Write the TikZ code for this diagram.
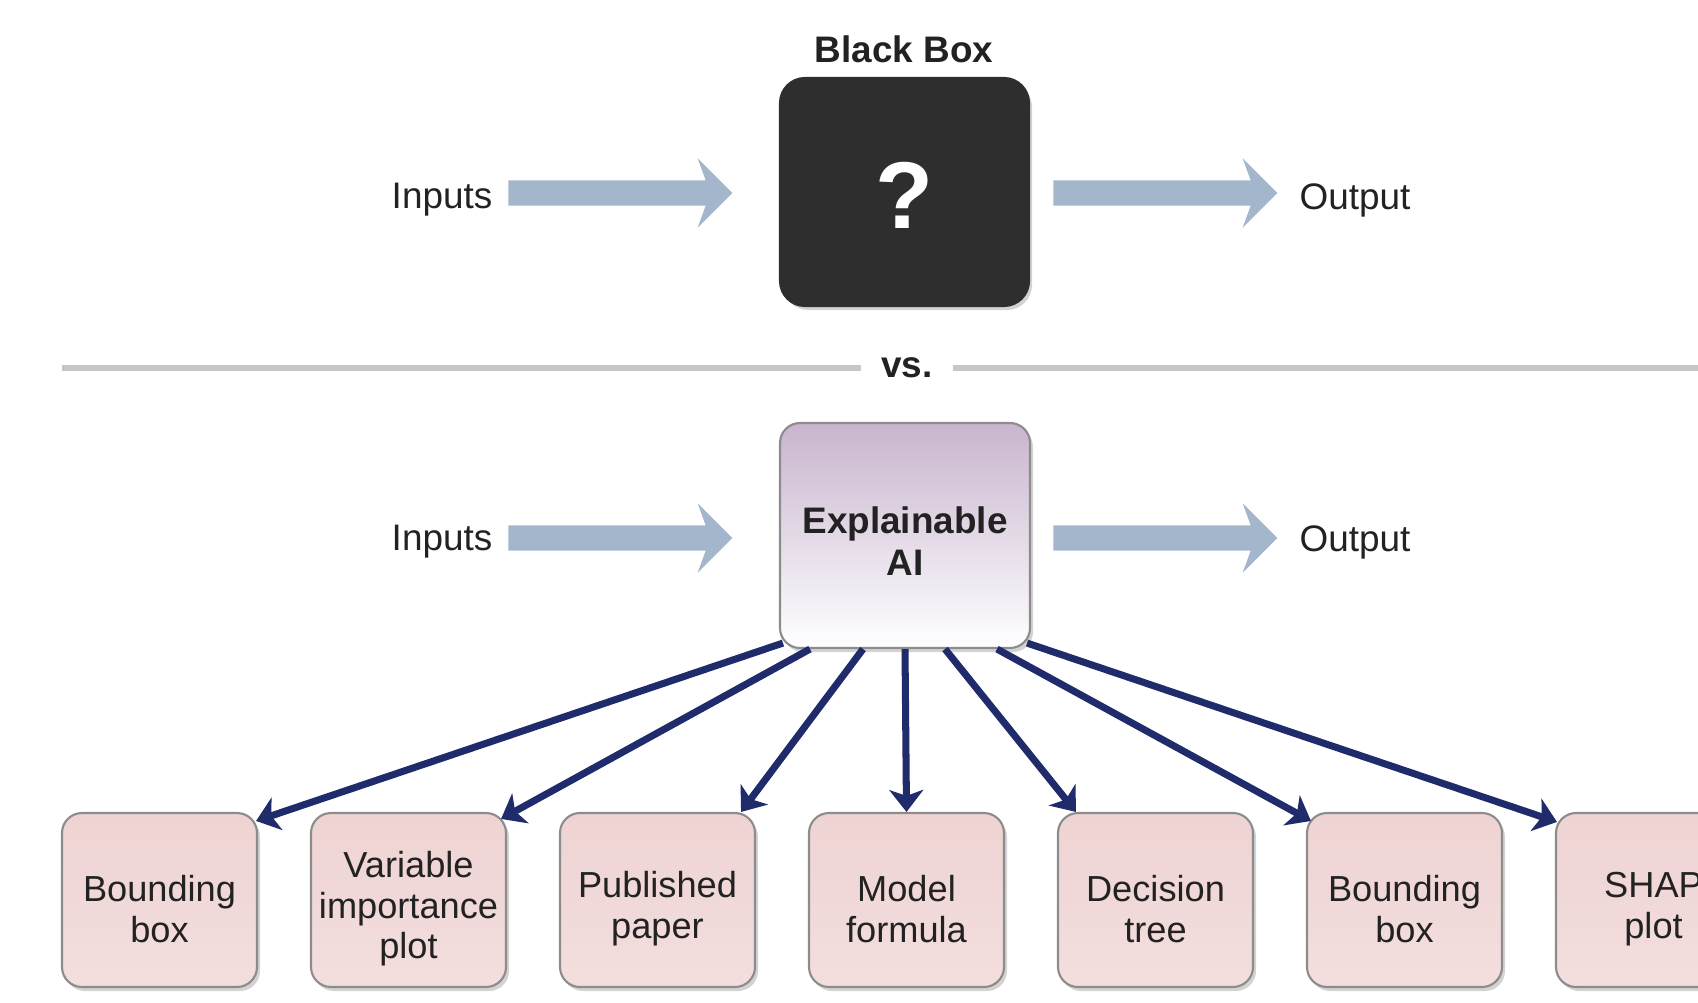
\documentclass[tikz,border=0pt]{standalone}
\usepackage{fontspec}
\setmainfont{Liberation Sans}
\usetikzlibrary{shapes, arrows.meta, shadows, calc}
\definecolor{boxdark}{HTML}{2E2E2E}
\definecolor{flowblue}{HTML}{A4B6CC}
\definecolor{linkblue}{HTML}{1F2B6A}
\definecolor{xaitop}{HTML}{C8B4CE}
\definecolor{outpink}{HTML}{EFD3D3}
\definecolor{edgegray}{HTML}{8C8C8C}
\definecolor{rulegray}{HTML}{C6C6C6}
\definecolor{inkgray}{HTML}{222222}
\tikzstyle{base} = [rectangle, rounded corners=0.2cm, draw=edgegray, line width=0.6pt, text centered, text=inkgray, drop shadow={shadow xshift=0.03cm, shadow yshift=-0.04cm, opacity=0.35}]
\tikzstyle{blackbox} = [base, fill=boxdark, draw=boxdark, minimum width=2.49cm, minimum height=2.28cm, rounded corners=0.25cm]
\tikzstyle{xai} = [base, top color=xaitop, bottom color=white, minimum width=2.50cm, minimum height=2.25cm, text width=2.3cm, inner xsep=0.05cm, execute at begin node={\rule{0pt}{10.8pt}}, font=\fontsize{10.5}{11.8}\selectfont\bfseries]
\tikzstyle{outcome} = [base, top color=outpink, bottom color=outpink!75!white, minimum width=1.95cm, minimum height=1.74cm, text width=1.85cm, inner xsep=0.05cm, execute at begin node={\rule{0pt}{12.5pt}}, font=\fontsize{10.3}{11.6}\selectfont]
\tikzstyle{flow} = [single arrow, draw=none, fill=flowblue, minimum height=2.24cm, inner sep=0.12cm, single arrow head extend=0.22cm, single arrow head indent=0.08cm]
\tikzstyle{io text} = [text=inkgray, font=\fontsize{10.5}{12}\selectfont]
\tikzstyle{title text} = [io text, font=\fontsize{10.5}{12}\selectfont\bfseries]
\tikzstyle{connector} = [draw, linkblue, line width=2pt, -{Stealth[length=0.22cm, width=0.34cm, inset=0.06cm]}]
\tikzstyle{rule} = [draw, rulegray, line width=0.06cm]

\begin{document}
\begin{tikzpicture}
	\useasboundingbox (0,0) rectangle (16.98,-10.02);
	\clip (0,0) rectangle (16.98,-10.02);
	
	% black box
	\node [title text] at (9.04, -0.49) (bb title) {Black Box};
	\node [blackbox] at (9.045, -1.92) (bb) {};
	\node [text=white, font=\fontsize{27}{27}\selectfont\bfseries] at (9.04, -1.95) (qmark) {?};
	\node [io text] at (4.42, -2.00) (in1) {Inputs};
	\node [flow] at (6.14, -1.93) (arr1) {};
	\node [flow] at (11.59, -1.93) (arr2) {};
	\node [io text] at (13.55, -2.00) (out1) {Output};
	
	% separator
	\coordinate (rule west) at (0.62, -3.68);
	\coordinate (rule east) at (16.98, -3.68);
	\node [title text, inner xsep=0.2cm] at (9.07, -3.68) (vs) {vs.};
	\path [rule] (rule west) -- (vs) -- (rule east);
	
	% explainable ai
	\node [xai] at (9.05, -5.355) (ai) {Explainable\\AI};
	\node [io text] at (4.42, -5.42) (in2) {Inputs};
	\node [flow] at (6.14, -5.38) (arr3) {};
	\node [flow] at (11.59, -5.38) (arr4) {};
	\node [io text] at (13.55, -5.42) (out2) {Output};
	
	% explanations
	\node [outcome] at (1.595, -9.00) (b1) {Bounding\\box};
	\node [outcome] at (4.085, -9.00) (b2) {Variable\\importance\\plot};
	\node [outcome] at (6.575, -9.00) (b3) {Published\\paper};
	\node [outcome] at (9.065, -9.00) (b4) {Model\\formula};
	\node [outcome] at (11.555, -9.00) (b5) {Decision\\tree};
	\node [outcome] at (14.045, -9.00) (b6) {Bounding\\box};
	\node [outcome] at (16.535, -9.00) (b7) {SHAP\\plot};
	
	\path [connector] ($(ai.south west)+(0.04,0.06)$) -- ($(b1.north east)+(-0.02,-0.09)$);
	\path [connector] ($(ai.south)+(-0.95,0)$) -- ($(b2.north east)+(-0.06,-0.07)$);
	\path [connector] ($(ai.south)+(-0.42,0)$) -- ($(b3.north east)+(-0.15,0)$);
	\path [connector] (ai.south) -- (b4.north);
	\path [connector] ($(ai.south)+(0.40,0)$) -- ($(b5.north west)+(0.19,0)$);
	\path [connector] ($(ai.south)+(0.92,0)$) -- ($(b6.north west)+(0.05,-0.09)$);
	\path [connector] ($(ai.south east)+(-0.04,0.06)$) -- ($(b7.north west)+(0.02,-0.10)$);
	
\end{tikzpicture}
\end{document}
